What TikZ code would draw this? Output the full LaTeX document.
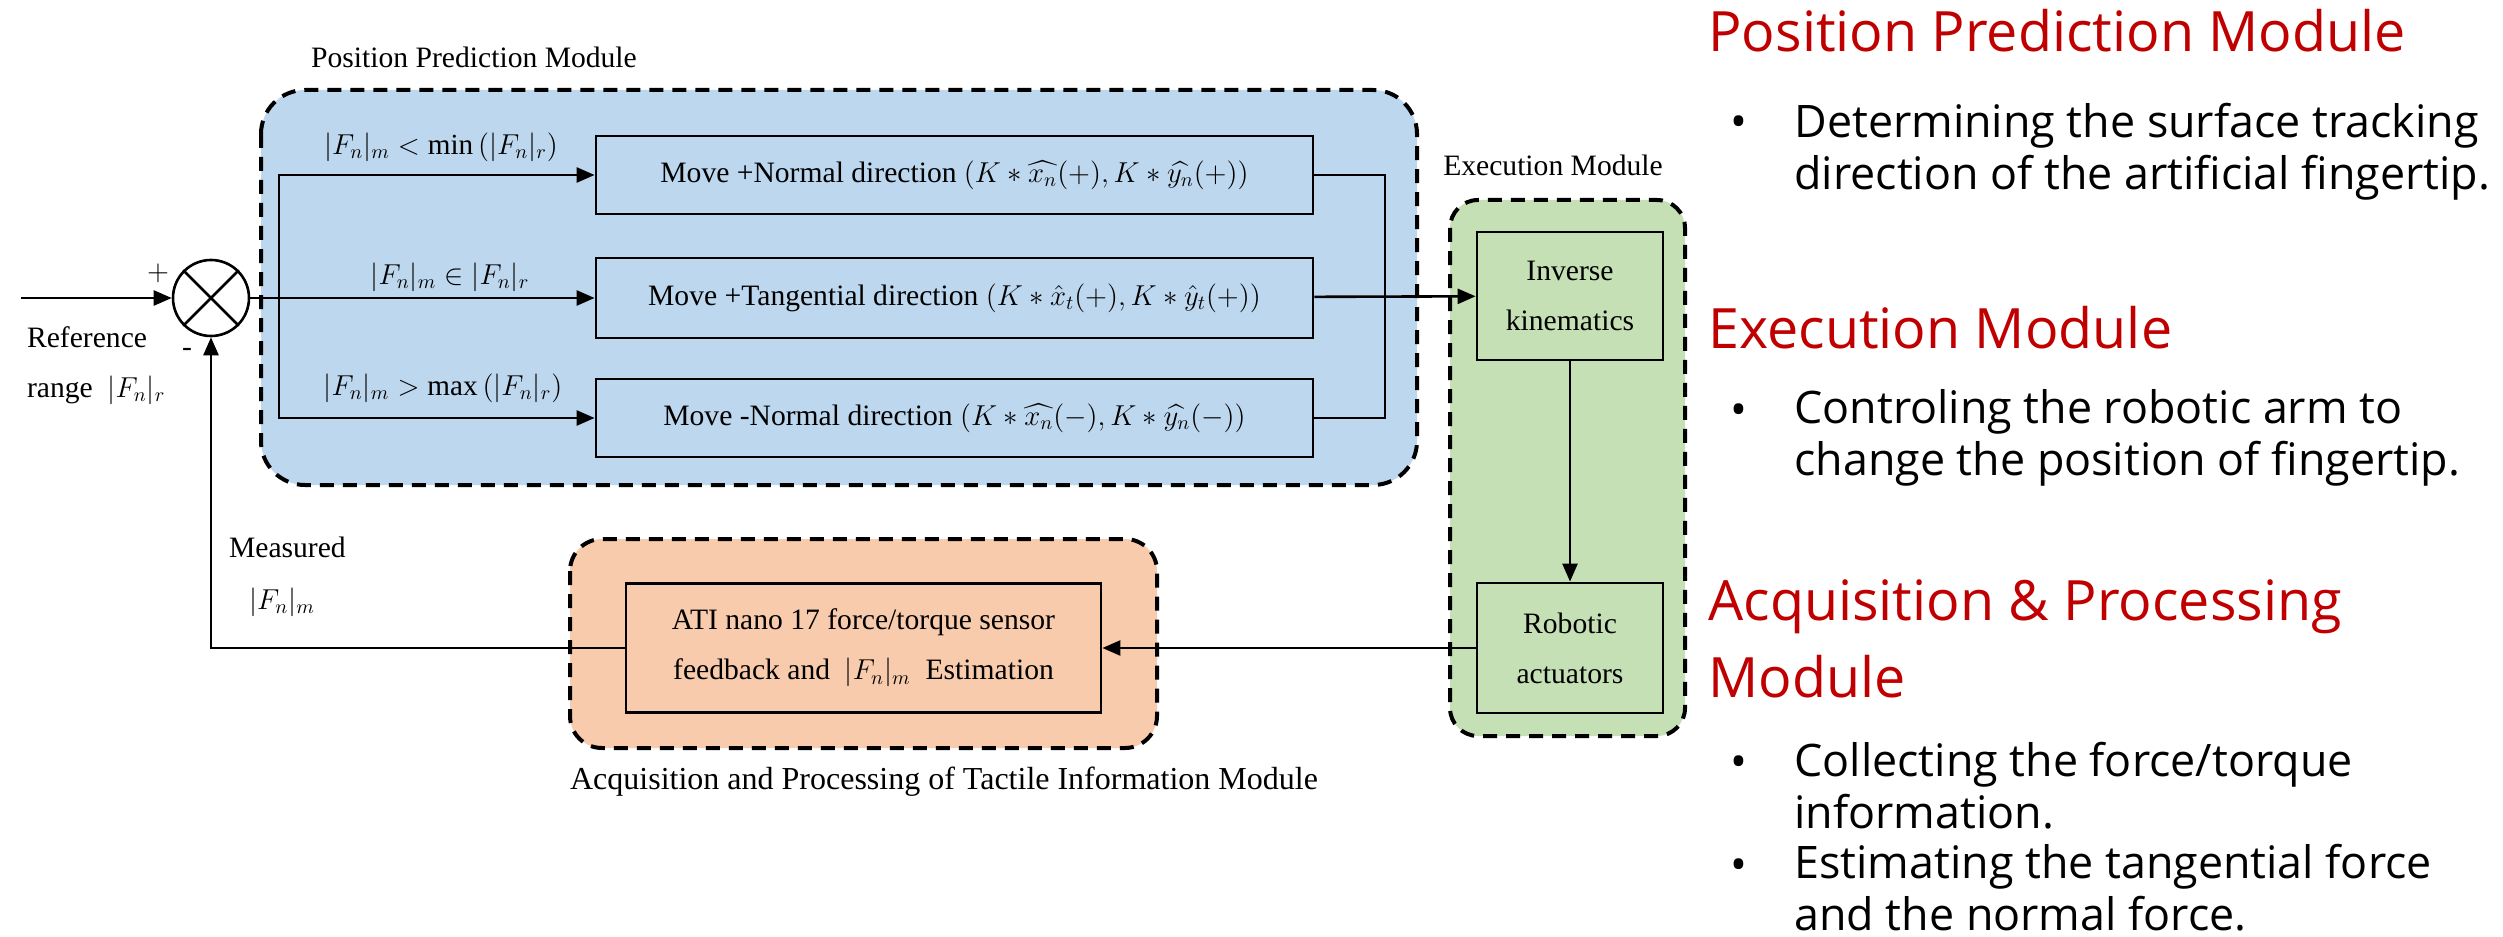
\documentclass[tikz,border=0pt]{standalone}
\usepackage{fontspec}
\usepackage{amsmath}
\setmainfont{Liberation Serif}
\newfontfamily\notefont{Open Sans}
\usetikzlibrary{arrows.meta}

\definecolor{ppblue}{RGB}{189,215,238}
\definecolor{exgreen}{RGB}{197,224,180}
\definecolor{aqorange}{RGB}{248,203,173}
\definecolor{notered}{RGB}{192,0,0}

\begin{document}
\begin{tikzpicture}[x = 0.5pt, y = -0.5pt,
  font = \fontsize{14.8}{25}\selectfont,
  module/.style = {draw, line width = 2pt, dash pattern = on 7pt off 4.5pt},
  block/.style = {draw, line width = 1.4pt, inner sep = 0pt, align = center},
  cond/.style = {font = \fontsize{14.6}{17}\selectfont},
  wire/.style = {line width = 1.3pt},
  link/.style = {wire, -{Triangle[length = 9pt, width = 7.5pt]}},
  heading/.style = {anchor = base west, inner sep = 0pt, align = left, color = notered,
    font = \notefont\fontsize{27.8}{38.5}\selectfont},
  note/.style = {anchor = base west, inner sep = 0pt, align = left,
    font = \notefont\fontsize{22.4}{26}\selectfont}]
\useasboundingbox (0, 0) rectangle (2503, 936);
%\draw [very thin, color = gray](0, 0) grid [step = 100] (2503, 936);

% module backgrounds
\draw [module, rounded corners = 22pt, fill = ppblue] (261, 90) rectangle (1417, 485);
\draw [module, rounded corners = 14pt, fill = exgreen] (1450, 200) rectangle (1685, 736);
\draw [module, rounded corners = 16pt, fill = aqorange] (570, 539) rectangle (1157, 748);
\node at (474, 57) {Position Prediction Module};
\node at (1553, 165) {Execution Module};
\node [font = \fontsize{16}{18}\selectfont] at (944, 782) {Acquisition and Processing of Tactile Information Module};

% summing junction
\node [draw, circle, wire, minimum size = 38pt, inner sep = 0pt] (sum) at (211, 298) {};
\draw [wire] (sum.45) to (sum.225) (sum.135) to (sum.315);
\coordinate (ref) at (21, 298);
\draw [link] (ref) to (sum);
\node at (158, 273) {$+$};
\node at (187, 352) {-};
\node [right] at (20, 337) {Reference};
\node [right] at (20, 390) {range\ \ $|F_n|_r$};

% position prediction
\node [block, minimum width = 358.5pt, minimum height = 39pt] (normp) at (954.5, 175)
  {Move +Normal direction $(K * \widehat{x_n}(+), K * \widehat{y_n}(+))$};
\node [block, minimum width = 358.5pt, minimum height = 40pt] (tang) at (954.5, 298)
  {Move +Tangential direction $(K * \hat{x}_t(+), K * \hat{y}_t(+))$};
\node [block, minimum width = 358.5pt, minimum height = 39pt] (normm) at (954.5, 418)
  {Move -Normal direction $(K * \widehat{x_n}(-), K * \widehat{y_n}(-))$};
\coordinate (split) at (279, 298);
\coordinate (merge) at (1385, 298);
\draw [link] (sum) to (tang);
\draw [link] (split) |- (normp);
\draw [link] (split) |- (normm);
\draw [wire] (normp) -| (merge) |- (normm);
\node [cond] at (441, 147) {$|F_n|_m < \min\,(|F_n|_r)$};
\node [cond] at (450, 277) {$|F_n|_m \in |F_n|_r$};
\node [cond] at (443, 388) {$|F_n|_m > \max\,(|F_n|_r)$};

% execution
\node [block, minimum width = 93pt, minimum height = 64pt] (ik) at (1570, 296) {Inverse\\kinematics};
\node [block, minimum width = 93pt, minimum height = 65pt] (act) at (1570, 648) {Robotic\\actuators};
\draw [link] (tang) to (ik);
\draw [link] (ik) to (act);

% acquisition and feedback
\node [block, minimum width = 237.5pt, minimum height = 64.5pt] (sensor) at (863.5, 648)
  {ATI nano 17 force/torque sensor\\feedback and\ \ $|F_n|_m$\ \ Estimation};
\draw [link] (act) to (sensor);
\draw [link] (sensor) -| (sum);
\node [right] at (222, 547) {Measured};
\node [right] at (242, 602) {$|F_n|_m$};

% notes on the right
\node [heading] (pphead) at (1708, 52) {Position Prediction Module};
\node [note, anchor = base] at (1739, 138) {\textbullet};
\node [note] (ppnote) at (1794, 190) {Determining the surface tracking\\direction of the artificial fingertip.};
\node [heading] (exhead) at (1708, 348) {Execution Module};
\node [note, anchor = base] at (1739, 425) {\textbullet};
\node [note] (exnote) at (1794, 475) {Controling the robotic arm to\\change the position of fingertip.};
\node [heading] (aqhead) at (1708, 697) {Acquisition \& Processing\\Module};
\node [note, anchor = base] at (1739, 777) {\textbullet};
\node [note] (aqnote) at (1794, 828) {Collecting the force/torque\\information.};
\node [note, anchor = base] at (1739, 880) {\textbullet};
\node [note] (esnote) at (1794, 930) {Estimating the tangential force\\and the normal force.};
\end{tikzpicture}
\end{document}
